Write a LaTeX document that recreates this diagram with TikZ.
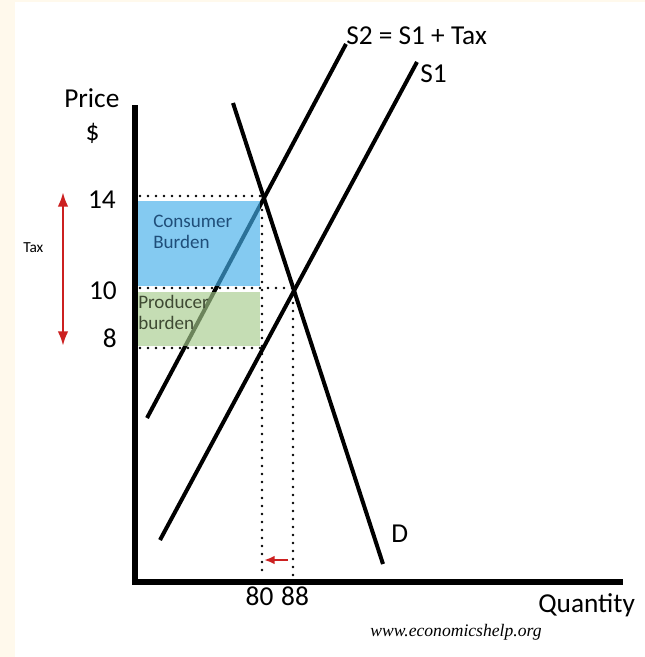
\documentclass[tikz,border=0pt]{standalone}
\usepackage{fontspec}
\setmainfont{Carlito}
\newfontfamily\sitefont{Liberation Serif}
\usetikzlibrary{arrows.meta,positioning}
\definecolor{paper}{HTML}{FFF9EC}
\definecolor{taxred}{HTML}{CC2020}
\definecolor{consumerfill}{HTML}{43AFEA}
\definecolor{producerfill}{HTML}{A6CC8C}
\definecolor{consumertext}{HTML}{1F4E79}
\definecolor{producertext}{HTML}{3F4A33}
\tikzset{
  curve/.style={line width=3pt},
  axisline/.style={line width=4.5pt},
  guide/.style={line width=1.9pt, dash pattern=on 0pt off 6pt, line cap=round},
  burden/.style={fill opacity=0.65},
  lbl/.style={font=\fontsize{20.5}{23}\selectfont, inner sep=0pt},
  num/.style={lbl, anchor=base east},
  note/.style={font=\fontsize{14.3}{15.75}\selectfont, inner sep=0pt, align=left, anchor=north west},
  taxarr/.style={{Latex[length=11pt,width=8pt]}-{Latex[length=11pt,width=8pt]}, taxred, line width=2pt},
  shiftarr/.style={-{Latex[length=8pt,width=6.5pt]}, taxred, line width=2pt}
}
\begin{document}
\begin{tikzpicture}[x=0.75pt, y=-0.75pt]
  \useasboundingbox (0,0) rectangle (645,657);
  \fill[paper] (0,0) rectangle (645,657);
  \fill[white] (15,2) rectangle (645,657);

  % supply and demand
  \coordinate (s2lo) at (147,418);
  \coordinate (s2hi) at (346,44);
  \coordinate (s1lo) at (160,540);
  \coordinate (s1hi) at (417,62);
  \coordinate (dhi) at (233,103);
  \coordinate (dlo) at (383,564);
  \draw[curve] (s2lo) -- (s2hi);
  \draw[curve] (s1lo) -- (s1hi);
  \draw[curve] (dhi) -- (dlo);

  % tax burden areas
  \fill[burden, consumerfill] (138,201) rectangle (260,286);
  \fill[burden, producerfill] (138,292) rectangle (260,346);
  \node[note, text=consumertext] (cons) at (153,215) {Consumer\\Burden};
  \node[note, text=producertext] (prod) at (138,295) {Producer\\burden};

  % dotted guides
  \coordinate (p14) at (140,196);
  \coordinate (p10) at (140,288);
  \coordinate (p8) at (140,348);
  \coordinate (q80) at (262,575);
  \coordinate (q88) at (293,575);
  \draw[guide] (p14) -| (q80);
  \draw[guide] (p10) -| (q88);
  \draw[guide] (p8) -- (p8 -| q80);

  % axes
  \draw[axisline] (135,105) -- (135,585);
  \draw[axisline] (132,582) -- (623,582);

  % tax and quantity arrows
  \coordinate (taxtop) at (63,192);
  \coordinate (taxbot) at (63,346);
  \draw[taxarr] (taxtop) -- (taxbot);
  \coordinate (shiftfrom) at (288,560);
  \coordinate (shiftto) at (264,560);
  \draw[shiftarr] (shiftfrom) -- (shiftto);

  % labels
  \node[lbl, anchor=base west] (price) at (64,107) {Price};
  \node[lbl, anchor=base] (dollar) at (92.5,140) {\$};
  \node[num] (n14) at (116,208) {14};
  \node[num] (n10) at (117,299) {10};
  \node[num] (n8) at (117,347) {8};
  \node[font=\fontsize{11.5}{13}\selectfont, inner sep=0pt, anchor=base west] (tax) at (23,252) {Tax};
  \node[lbl, anchor=base west] (s2lbl) at (s2hi) {S2 = S1 + Tax};
  \node[lbl, anchor=base west] (s1lbl) at (420,82) {S1};
  \node[lbl, anchor=base west] (dlbl) at (391,542) {D};
  \node[lbl, anchor=base] (n80) at (259.5,605) {80};
  \node[lbl, anchor=base] (n88) at (295,605) {88};
  \node[lbl, anchor=base west] (qty) at (538,612) {Quantity};
  \node[font=\sitefont\itshape\fontsize{13.2}{15}\selectfont, inner sep=0pt, anchor=base] (site) at (456,636) {www.economicshelp.org};
\end{tikzpicture}
\end{document}
